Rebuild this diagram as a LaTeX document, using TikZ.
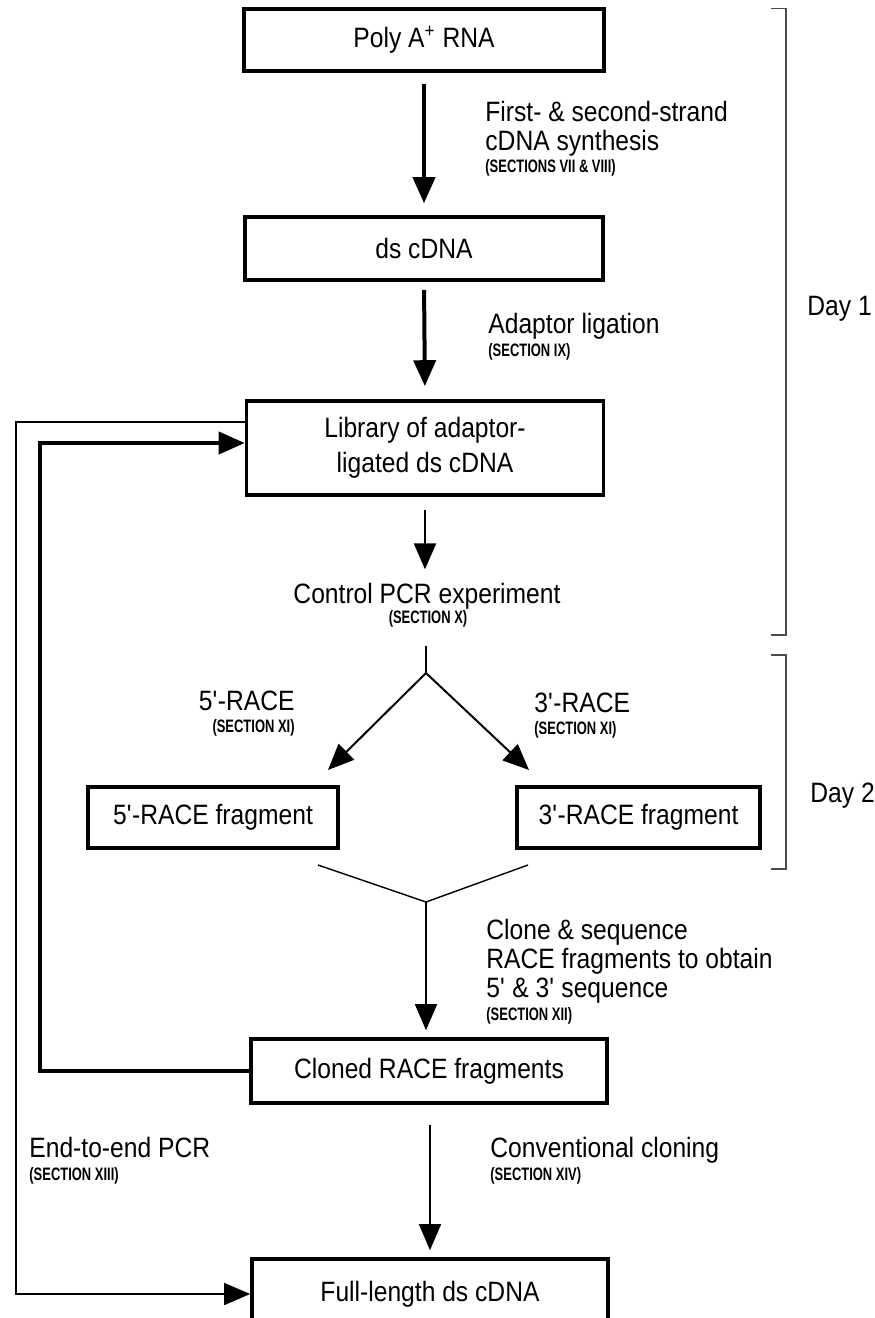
\documentclass[tikz,border=0pt]{standalone}
\usepackage{fontspec}
\setmainfont{Liberation Sans}[FakeStretch=0.88]
\newfontfamily\secfont{Liberation Sans}[FakeStretch=0.72]
\usetikzlibrary{arrows.meta}

\begin{document}
\begin{tikzpicture}[x=0.5pt,y=-0.5pt,
    box/.style={draw,line width=1.8pt,inner sep=0pt,font=\fontsize{14}{17.5}\selectfont},
    lbl/.style={inner sep=0pt,align=left,font=\fontsize{14}{14.5}\selectfont},
    sec/.style={inner sep=0pt,anchor=base west,font=\secfont\bfseries\fontsize{9}{10}\selectfont},
    tip/.style={-{Triangle[length=13pt,width=11pt]}}]
            \useasboundingbox (0,0) rectangle (874,1318);

            \node[box,minimum width=180pt,minimum height=31pt] (poly) at (424,40) {Poly A\textsuperscript{+} RNA};
            \node[box,minimum width=179pt,minimum height=31.5pt] (ds) at (424,248.5) {ds cDNA};
            \node[box,minimum width=178.5pt,minimum height=47pt,align=center] (lib) at (425,448) {Library of adaptor-\\ligated ds cDNA};
            \node[box,minimum width=125pt,minimum height=30.5pt] (five) at (213,817.5) {5\textquotesingle-RACE fragment};
            \node[box,minimum width=121.5pt,minimum height=30.5pt] (three) at (638.5,817.5) {3\textquotesingle-RACE fragment};
            \node[box,minimum width=178pt,minimum height=32pt] (cloned) at (429,1071) {Cloned RACE fragments};
            \node[box,minimum width=178pt,minimum height=35pt] (full) at (430,1294) {Full-length ds cDNA};

            \node[lbl,anchor=north west] (synth) at (485,101) {First- \& second-strand\\cDNA synthesis};
            \node[sec] (synthsec) at (485,172) {(SECTIONS VII \& VIII)};
            \node[lbl,anchor=base west] (adapt) at (488,333) {Adaptor ligation};
            \node[sec] (adaptsec) at (488,356) {(SECTION IX)};
            \node[lbl,anchor=base] (ctrl) at (427,603) {Control PCR experiment};
            \node[sec,anchor=base] (ctrlsec) at (428,623) {(SECTION X)};
            \node[lbl,anchor=base east] (fiverace) at (295,710) {5\textquotesingle-RACE};
            \node[sec,anchor=base east] (fivesec) at (295,732) {(SECTION XI)};
            \node[lbl,anchor=base west] (threerace) at (534,712) {3\textquotesingle-RACE};
            \node[sec] (threesec) at (534,734) {(SECTION XI)};
            \node[lbl,anchor=north west] (clone) at (486,919) {Clone \& sequence\\RACE fragments to obtain\\5\textquotesingle{} \& 3\textquotesingle{} sequence};
            \node[sec] (clonesec) at (486,1020) {(SECTION XII)};
            \node[lbl,anchor=base west] (conv) at (490,1157) {Conventional cloning};
            \node[sec] (convsec) at (490,1180) {(SECTION XIV)};
            \node[lbl,anchor=base west] (endpcr) at (29,1157) {End-to-end PCR};
            \node[sec] (endsec) at (29,1180) {(SECTION XIII)};
            \node[lbl,anchor=base west] (dayone) at (807,315) {Day 1};
            \node[lbl,anchor=base west] (daytwo) at (810,802) {Day 2};

            \coordinate (forktop) at (426,646);
            \coordinate (fork) at (426,673);
            \coordinate (fiveend) at (328,770);
            \coordinate (threeend) at (529,770);
            \coordinate (mergeleft) at (318,865);
            \coordinate (mergeright) at (528,865);
            \coordinate (merge) at (426,902);
            \coordinate (thickbend) at (40,700);
            \coordinate (thinbend) at (16,700);

            \draw[tip,line width=2pt,shorten <=5.5pt,shorten >=6pt] (poly.south) -- (ds.north);
            \draw[tip,line width=2pt,shorten <=4pt,shorten >=6.5pt] (ds.south) -- (lib.north);
            \draw[tip,line width=1.2pt,shorten <=6.5pt,shorten >=6.5pt] (lib.south) -- (lib.south |- ctrl.north);

            \draw[line width=1pt] (forktop) -- (fork);
            \draw[tip,line width=1pt] (fork) -- (fiveend);
            \draw[tip,line width=1pt] (fork) -- (threeend);

            \draw[line width=0.7pt] (mergeleft) -- (merge) -- (mergeright);
            \draw[tip,line width=0.7pt,shorten >=3.5pt] (merge) -- (merge |- cloned.north);
            \draw[tip,line width=0.7pt,shorten <=10pt,shorten >=3.5pt] (full.north |- cloned.south) -- (full.north);

            \draw[tip,line width=2pt] (cloned.west) -| (thickbend) |- ([yshift=2.5pt]lib.west);
            \draw[tip,line width=0.8pt] ([yshift=13pt]lib.west) -| (thinbend) |- (full.west);

            \draw[black!70,line width=0.8pt] (771,8.5) -- (786,8.5) -- (786,635) -- (771,635);
            \draw[black!70,line width=0.8pt] (771,655) -- (786,655) -- (786,869) -- (771,869);
        \end{tikzpicture}
\end{document}
